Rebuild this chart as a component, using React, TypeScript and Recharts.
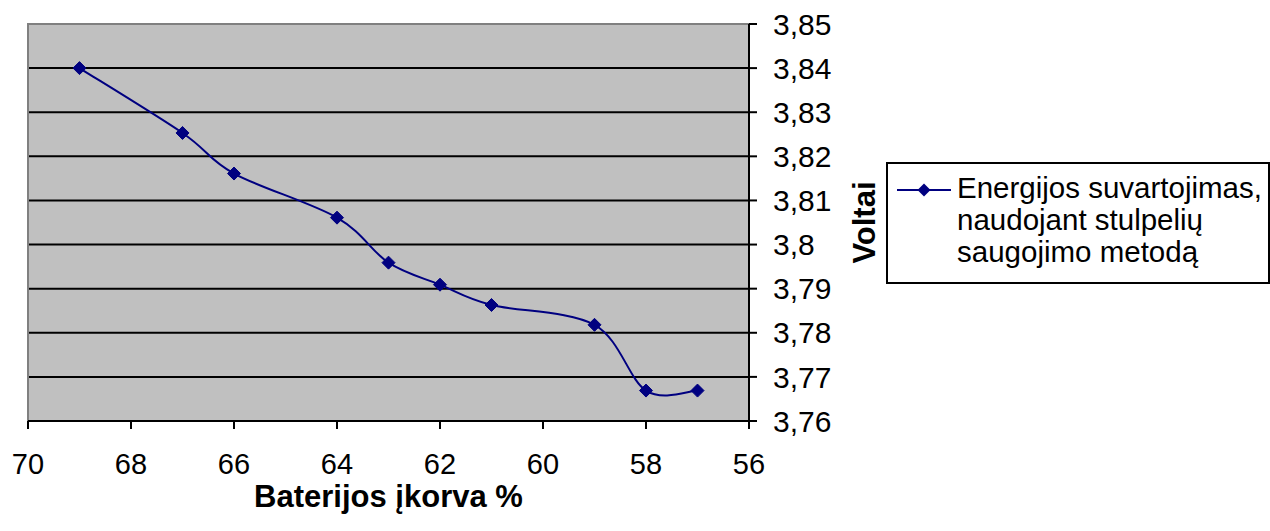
import React from "react";
import {
  LineChart,
  Line,
  XAxis,
  YAxis,
  CartesianGrid,
  Legend,
  ReferenceArea,
} from "recharts";

const batteryLevels = [69, 67, 66, 64, 63, 62, 61, 59, 58, 57];
const volts = [3.84, 3.8253, 3.8161, 3.8061, 3.7959, 3.7909, 3.7863, 3.7818, 3.7669, 3.7669];
const xTicks = [70, 68, 66, 64, 62, 60, 58, 56];
const yTicks = [3.76, 3.77, 3.78, 3.79, 3.8, 3.81, 3.82, 3.83, 3.84, 3.85];
const seriesName = "Energijos suvartojimas, naudojant stulpelių saugojimo metodą";
const legendLines = ["Energijos suvartojimas,", "naudojant stulpelių", "saugojimo metodą"];

const data = batteryLevels.map((x, i) => ({ x, v: volts[i] }));

const FONT = "'Liberation Sans', Arial, sans-serif";
const NAVY = "#000080";

// smooth curve through the points, close to the spreadsheet "smoothed line"
function smoothCurve(context: any) {
  let pts: number[][] = [];
  return {
    areaStart() {},
    areaEnd() {},
    lineStart() {
      pts = [];
    },
    point(x: number, y: number) {
      pts.push([x, y]);
    },
    lineEnd() {
      if (!pts.length) return;
      context.moveTo(pts[0][0], pts[0][1]);
      for (let i = 0; i < pts.length - 1; i++) {
        const p0 = pts[i - 1] || pts[i];
        const p1 = pts[i];
        const p2 = pts[i + 1];
        const p3 = pts[i + 2] || p2;
        context.bezierCurveTo(
          p1[0] + (p2[0] - p0[0]) / 6,
          p1[1] + (p2[1] - p0[1]) / 6,
          p2[0] - (p3[0] - p1[0]) / 6,
          p2[1] - (p3[1] - p1[1]) / 6,
          p2[0],
          p2[1]
        );
      }
    },
  };
}

const fmt = (v: number) => v.toFixed(2).replace(/0+$/, "").replace(/\.$/, "").replace(".", ",");

const Diamond = (props: any) => {
  const { cx, cy } = props;
  if (cx == null || cy == null) return null;
  const r = 6.5;
  return (
    <polygon
      points={`${cx},${cy - r} ${cx + r},${cy} ${cx},${cy + r} ${cx - r},${cy}`}
      fill={NAVY}
      stroke={NAVY}
    />
  );
};

const LegendBox = () => (
  <div
    style={{
      width: 380,
      height: 118,
      border: "2px solid #000",
      background: "#fff",
      fontFamily: FONT,
      fontSize: 29.5,
      lineHeight: "32px",
      position: "relative",
      boxSizing: "content-box",
    }}
  >
    <svg width={60} height={20} style={{ position: "absolute", left: 9, top: 16 }}>
      <line x1={0} y1={10} x2={54} y2={10} stroke={NAVY} strokeWidth={2} />
      <polygon points="27,3.5 33.5,10 27,16.5 20.5,10" fill={NAVY} />
    </svg>
    <div style={{ position: "absolute", left: 69, top: 8, whiteSpace: "nowrap" }}>
      {legendLines.map((l) => (
        <div key={l}>{l}</div>
      ))}
    </div>
  </div>
);

export default function App() {
  return (
    <div style={{ position: "absolute", left: 0, top: 0, width: 1270, height: 531, background: "#fff" }}>
      <LineChart
        width={1270}
        height={531}
        data={data}
        margin={{ top: 24, left: 28, right: 401, bottom: 0 }}
      >
        <CartesianGrid
          fill="#c0c0c0"
          vertical={false}
          horizontalValues={yTicks.slice(1, -1)}
          stroke="#000"
          strokeWidth={2}
          strokeOpacity={1}
        />
        <ReferenceArea
          x1={70}
          x2={56}
          y1={3.76}
          y2={3.85}
          fill="none"
          stroke="#808080"
          strokeWidth={2}
          ifOverflow="visible"
        />
        <XAxis
          dataKey="x"
          type="number"
          domain={[56, 70]}
          reversed
          ticks={xTicks}
          interval={0}
          height={110}
          tickSize={8}
          tickMargin={24}
          axisLine={{ stroke: "#000", strokeWidth: 2 }}
          tickLine={{ stroke: "#000", strokeWidth: 2 }}
          tick={{ fill: "#000", fontSize: 29, fontFamily: FONT }}
          label={(p: any) => {
            const vb = p.viewBox;
            return (
              <text
                x={vb.x + vb.width / 2}
                y={vb.y + 86}
                textAnchor="middle"
                fontFamily={FONT}
                fontSize={31}
                fontWeight="bold"
                fill="#000"
              >
                Baterijos įkorva %
              </text>
            );
          }}
        />
        <YAxis
          orientation="right"
          type="number"
          domain={[3.76, 3.85]}
          ticks={yTicks}
          interval={0}
          width={120}
          tickSize={8}
          tickMargin={16}
          tickFormatter={fmt}
          axisLine={{ stroke: "#000", strokeWidth: 2 }}
          tickLine={{ stroke: "#000", strokeWidth: 2 }}
          tick={{ fill: "#000", fontSize: 30, fontFamily: FONT }}
          label={(p: any) => {
            const vb = p.viewBox;
            const cx = vb.x + 115;
            const cy = vb.y + vb.height / 2;
            return (
              <text
                x={cx}
                y={cy}
                transform={`rotate(-90 ${cx} ${cy})`}
                textAnchor="middle"
                dominantBaseline="central"
                fontFamily={FONT}
                fontSize={31}
                fontWeight="bold"
                fill="#000"
              >
                Voltai
              </text>
            );
          }}
        />
        <Legend
          verticalAlign="middle"
          layout="horizontal"
          content={() => <LegendBox />}
          wrapperStyle={{ position: "absolute", left: 886, top: 162, width: 384, margin: 0 }}
        />
        <Line
          name={seriesName}
          dataKey="v"
          type={smoothCurve as any}
          stroke={NAVY}
          strokeWidth={2}
          dot={<Diamond />}
          activeDot={false}
          isAnimationActive={false}
        />
      </LineChart>
    </div>
  );
}
